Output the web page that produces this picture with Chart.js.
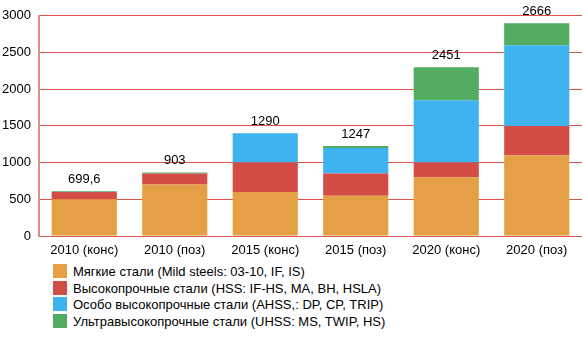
<!DOCTYPE html>
<html>
<head>
<meta charset="utf-8">
<script src="https://cdn.jsdelivr.net/npm/chart.js@4/dist/chart.umd.min.js"></script>
<style>
  body { margin: 0; background: #fff; font-family: "Liberation Sans", Arial, sans-serif; }
  #wrap { position: relative; width: 583px; height: 338px; }
  #chart { position: absolute; left: 0; top: 0; }
  #legend { position: absolute; left: 53px; top: 264px; font-size: 13px; color: #000; }
  .item { height: 16.7px; line-height: 16px; white-space: nowrap; }
  .box { display: inline-block; width: 14px; height: 14px; vertical-align: -2px; margin-right: 6px; }
</style>
</head>
<body>
<div id="wrap">
  <canvas id="chart" width="583" height="262"></canvas>
  <div id="legend"></div>
</div>
<script>
var categories = ['2010 (конс)', '2010 (поз)', '2015 (конс)', '2015 (поз)', '2020 (конс)', '2020 (поз)'];
var mild = [500, 700, 600, 550, 800, 1100];
var hss = [100, 150, 400, 300, 200, 400];
var ahss = [0, 0, 400, 350, 850, 1100];
var uhss = [10, 15, 0, 25, 450, 300];
var totalLabels = ['699,6', '903', '1290', '1247', '2451', '2666'];
var yTicks = [0, 500, 1000, 1500, 2000, 2500, 3000];

var seriesNames = [
    'Мягкие стали (Mild steels: 03-10, IF, IS)',
    'Высокопрочные стали (HSS: IF-HS, MA, BH, HSLA)',
    'Особо высокопрочные стали (AHSS,: DP, CP, TRIP)',
    'Ультравысокопрочные стали (UHSS: MS, TWIP, HS)'
];
var colors = ['#E59F45', '#D44C46', '#3EB3EF', '#52AD62'];
var gridColor = '#D9544F';

var fontFamily = '"Liberation Sans", Arial, sans-serif';

// legend (html)
var legendHtml = '';
for (var i = 0; i < seriesNames.length; i++) {
    legendHtml += '<div class="item"><span class="box" style="background:' + colors[i] + '"></span>' + seriesNames[i] + '</div>';
}
document.getElementById('legend').innerHTML = legendHtml;

// totals written above each column
var topLabels = {
    id: 'topLabels',
    afterDatasetsDraw: function (chart) {
        var ctx = chart.ctx;
        ctx.save();
        ctx.font = '13px ' + fontFamily;
        ctx.fillStyle = '#000';
        ctx.textAlign = 'center';
        ctx.textBaseline = 'middle';
        for (var i = 0; i < categories.length; i++) {
            var top = Infinity, x = 0;
            chart.data.datasets.forEach(function (ds, d) {
                var bar = chart.getDatasetMeta(d).data[i];
                if (ds.data[i] > 0 && bar.y < top) { top = bar.y; x = bar.x; }
            });
            ctx.fillText(totalLabels[i], x, top - 12);
        }
        ctx.restore();
    }
};

var datasets = [mild, hss, ahss, uhss].map(function (vals, i) {
    return {
        label: seriesNames[i],
        data: vals,
        backgroundColor: colors[i],
        borderWidth: 0,
        barPercentage: 0.72,
        categoryPercentage: 1.0
    };
});

new Chart(document.getElementById('chart'), {
    type: 'bar',
    data: { labels: categories, datasets: datasets },
    plugins: [topLabels],
    options: {
        responsive: false,
        animation: false,
        layout: { padding: { top: 8, right: 1, left: 0, bottom: 0 } },
        plugins: { legend: { display: false }, tooltip: { enabled: false } },
        scales: {
            x: {
                stacked: true,
                grid: { display: false, drawTicks: false },
                border: { display: false },
                ticks: { color: '#000', font: { family: fontFamily, size: 13 }, padding: 7, maxRotation: 0 },
                afterFit: function (scale) { scale.height = 26; }
            },
            y: {
                stacked: true,
                min: 0,
                max: 3000,
                afterBuildTicks: function (scale) {
                    scale.ticks = yTicks.map(function (v) { return { value: v }; });
                },
                grid: { color: gridColor, drawTicks: false, lineWidth: 1 },
                border: { display: true, color: '#E38A87', width: 2 },
                ticks: {
                    color: '#000',
                    font: { family: fontFamily, size: 13 },
                    padding: 8,
                    callback: function (v) { return String(v); }
                },
                afterFit: function (scale) { scale.width = 39; }
            }
        }
    }
});
</script>
</body>
</html>
